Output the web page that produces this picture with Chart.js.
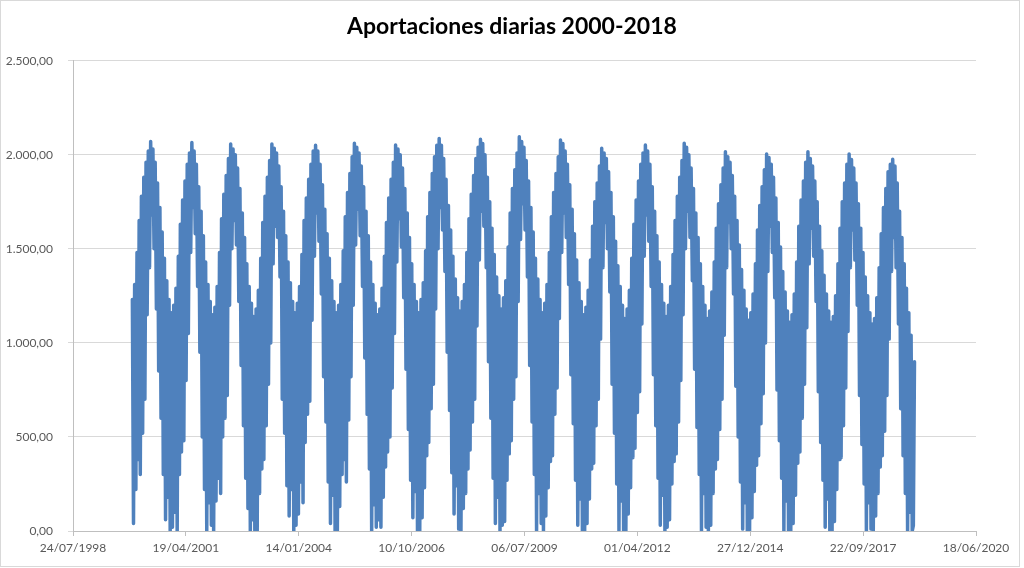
<!DOCTYPE html>
<html>
<head>
<meta charset="utf-8">
<script src="https://cdn.jsdelivr.net/npm/chart.js@4.4.1/dist/chart.umd.min.js"></script>
<style>
  html, body { margin:0; padding:0; background:#fff; }
  #wrap { position:relative; width:1024px; height:568px; }
  #frame { position:absolute; left:0; top:0; width:1018px; height:565px; border:1px solid #d9d9d9; pointer-events:none; }
</style>
</head>
<body>
<div id="wrap">
  <canvas id="chart" width="1024" height="568"></canvas>
  <div id="frame"></div>
</div>
<script>
// three samples per month (days 1, 11, 21), Jan..Dec
const years = [2000,2001,2002,2003,2004,2005,2006,2007,2008,2009,2010,2011,2012,2013,2014,2015,2016,2017,2018];
const sampleDays = [1, 11, 21];

const aport2000 = [1230,40,1310,220,1480,380,1650,300,1780,520,1880,700,1960,1150,2020,1400,2070,1680,2030,1500,1960,1180,1850,850,1720,600,1590,300,1450,60,1330,180,1230,0,1160,20];
const aport2001 = [1200,100,1290,0,1460,300,1630,420,1760,480,1860,800,1950,1050,2010,1480,2065,1720,2020,1580,1950,1300,1830,950,1700,500,1570,220,1430,0,1310,150,1220,30,1150,0];
const aport2002 = [1190,160,1300,280,1480,200,1660,500,1790,600,1890,720,1980,1200,2057,1500,2030,1650,2000,1520,1930,1220,1820,880,1690,560,1560,280,1420,120,1300,0,1210,60,1140,0];
const aport2003 = [1180,0,1280,200,1450,330,1640,380,1780,560,1880,780,1970,1000,2057,1420,2035,1620,2010,1560,1940,1350,1830,700,1700,520,1570,240,1430,80,1320,220,1220,0,1160,30];
const aport2004 = [1210,90,1300,260,1470,150,1650,470,1770,620,1870,690,1950,1120,2020,1460,2050,1690,2020,1540,1950,1260,1840,820,1710,580,1580,260,1450,40,1330,190,1220,0,1160,0];
const aport2005 = [1200,130,1310,300,1490,380,1670,260,1800,590,1900,820,1990,1200,2061,1520,2040,1710,2010,1570,1940,1300,1830,920,1700,620,1570,330,1430,0,1310,140,1210,20,1150,60];
const aport2006 = [1180,20,1290,180,1460,340,1640,420,1770,500,1870,760,1960,1050,2052,1430,2030,1660,2000,1510,1930,1240,1820,860,1690,540,1560,270,1420,70,1310,210,1220,0,1160,0];
const aport2007 = [1230,70,1320,230,1490,400,1670,470,1800,650,1900,780,1990,1180,2050,1500,2087,1720,2050,1600,1980,1380,1870,950,1730,640,1600,310,1460,90,1340,240,1240,10,1170,0];
const aport2008 = [1220,120,1310,200,1480,330,1660,430,1790,580,1890,700,1980,1090,2040,1440,2082,1700,2060,1620,2000,1400,1880,900,1750,600,1610,280,1470,40,1350,180,1250,0,1180,30];
const aport2009 = [1240,50,1330,270,1510,410,1690,480,1820,700,1920,820,2010,1220,2096,1550,2070,1740,2040,1600,1970,1350,1860,880,1720,580,1590,300,1450,0,1340,200,1230,40,1160,0];
const aport2010 = [1210,80,1310,230,1480,370,1670,400,1800,620,1900,760,1990,1130,2078,1480,2060,1690,2020,1560,1950,1310,1840,830,1710,570,1580,270,1440,30,1320,170,1220,0,1150,0];
const aport2011 = [1190,40,1280,170,1440,330,1620,360,1750,560,1850,700,1940,1020,2034,1400,2010,1640,1980,1500,1910,1270,1800,780,1670,520,1540,250,1410,0,1300,160,1200,0,1130,0];
const aport2012 = [1180,90,1280,230,1450,390,1630,440,1760,630,1860,740,1950,1100,2010,1460,2052,1680,2020,1540,1950,1300,1830,830,1700,560,1570,280,1430,30,1310,190,1210,0,1140,20];
const aport2013 = [1200,60,1300,250,1470,370,1650,410,1780,580,1880,800,1970,1150,2061,1500,2040,1700,2000,1560,1930,1330,1820,860,1690,550,1560,300,1420,0,1300,200,1200,20,1130,0];
const aport2014 = [1170,30,1270,200,1430,330,1610,380,1740,540,1840,700,1930,1040,2016,1400,1990,1640,1960,1500,1890,1260,1780,770,1650,500,1520,260,1390,10,1280,150,1180,0,1120,0];
const aport2015 = [1160,70,1260,210,1420,350,1600,400,1730,570,1830,730,1920,1000,2004,1380,1985,1620,1950,1480,1880,1240,1770,750,1640,480,1510,280,1380,0,1270,160,1170,0,1110,0];
const aport2016 = [1150,40,1260,190,1430,360,1620,420,1760,600,1860,780,1960,1080,2016,1420,1980,1610,1940,1460,1860,1220,1750,740,1620,470,1490,270,1360,20,1260,170,1170,0,1110,0];
const aport2017 = [1140,50,1250,220,1420,380,1610,390,1750,560,1850,760,1950,1060,2004,1400,1975,1600,1930,1440,1850,1200,1740,720,1610,460,1480,250,1350,0,1250,150,1160,10,1100,0];
const aport2018 = [1130,80,1240,200,1400,340,1580,400,1720,530,1820,720,1910,1020,1950,1380,1976,1560,1940,1400,1850,1100,1700,650,1560,400,1420,200,1290,0,1160,100,1040,0,30,900];

const seriesByYear = [aport2000,aport2001,aport2002,aport2003,aport2004,aport2005,aport2006,aport2007,aport2008,aport2009,
  aport2010,aport2011,aport2012,aport2013,aport2014,aport2015,aport2016,aport2017,aport2018];

const xTickLabels = ['24/07/1998','19/04/2001','14/01/2004','10/10/2006','06/07/2009','01/04/2012','27/12/2014','22/09/2017','18/06/2020'];
const yTickLabels = ['0,00','500,00','1.000,00','1.500,00','2.000,00','2.500,00'];

const X_MIN = 36000, X_MAX = 44000, X_STEP = 1000; // excel day serials
const Y_MAX = 2500, Y_STEP = 500;

function toSerial(y, m, d){ return Date.UTC(y, m, d) / 86400000 + 25569; }

const points = [];
years.forEach((yr, k) => {
  seriesByYear[k].forEach((v, i) => {
    points.push({ x: toSerial(yr, Math.floor(i/3), sampleDays[i % 3]), y: v });
  });
});

const FONT = 'Lato, "Open Sans", sans-serif';

new Chart(document.getElementById('chart'), {
  type: 'line',
  data: { datasets: [{ data: points, borderColor: '#4f81bd', borderWidth: 3.5, pointRadius: 0, tension: 0,
    borderJoinStyle: 'round', borderCapStyle: 'round', fill: false }] },
  options: {
    responsive: false, animation: false, events: [],
    layout: { padding: 0 },
    plugins: {
      legend: { display: false }, tooltip: { enabled: false },
      title: { display: true, text: 'Aportaciones diarias 2000-2018', color: '#000',
        font: { family: FONT, size: 23, weight: 'bold' }, padding: { top: 13, bottom: 20.1 } }
    },
    scales: {
      x: {
        type: 'linear', min: X_MIN, max: X_MAX,
        ticks: { stepSize: X_STEP, autoSkip: false, maxRotation: 0, padding: 5, color: '#595959',
          font: { family: FONT, size: 12 },
          callback: (v) => xTickLabels[Math.round((v - X_MIN) / X_STEP)] },
        grid: { drawOnChartArea: false, tickLength: 5, color: '#bfbfbf' },
        border: { color: '#bfbfbf' },
        afterFit: (s) => { s.height = 37; }
      },
      y: {
        min: 0, max: Y_MAX,
        ticks: { stepSize: Y_STEP, padding: 15, color: '#595959', font: { family: FONT, size: 12 },
          callback: (v) => yTickLabels[Math.round(v / Y_STEP)] },
        grid: { color: '#d9d9d9', tickLength: 5 },
        border: { color: '#bfbfbf' },
        afterFit: (s) => { s.width = 73; }
      },
      // empty right-hand space so the plot ends at the same place as the reference
      yRight: {
        position: 'right', min: 0, max: Y_MAX,
        ticks: { display: false }, grid: { display: false }, border: { display: false },
        afterFit: (s) => { s.width = 48; }
      }
    }
  }
});
</script>
</body>
</html>
